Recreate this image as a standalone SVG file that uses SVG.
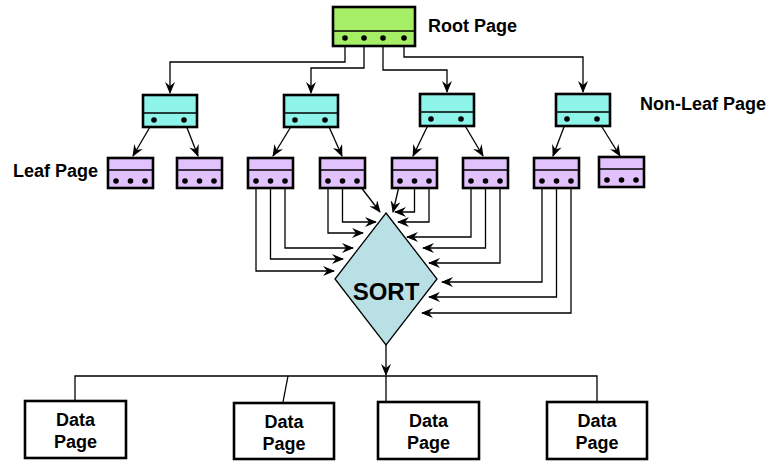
<svg xmlns="http://www.w3.org/2000/svg" width="773" height="461" viewBox="0 0 773 461">
<style>
.box{stroke:#000;stroke-width:2.6}
.root{fill:#a6ee66}
.nl{fill:#8ef4ea}
.leaf{fill:#e2c2fc}
.data{fill:#fff}
.div{stroke:#000;stroke-width:1.5;fill:none}
.dot{fill:#000}
.c{fill:none;stroke:#000;stroke-width:1.3}
.lbl{font-family:"Liberation Sans",Arial,sans-serif;font-weight:bold;font-size:18px;fill:#000}
.dt{font-family:"Liberation Sans",Arial,sans-serif;font-weight:bold;font-size:18px;fill:#000;text-anchor:middle}
</style>
<defs>
<marker id="ah" viewBox="0 0 12 10" refX="11" refY="5" markerWidth="12" markerHeight="10" markerUnits="userSpaceOnUse" orient="auto">
<path d="M0,0 L12,5 L0,10 L4,5 z" fill="#000"/>
</marker>
<g id="leafshape">
<rect class="box leaf" x="0" y="0" width="45" height="30"/>
<line class="div" x1="0" y1="12" x2="45" y2="12"/>
<circle class="dot" cx="8" cy="23" r="2.8"/>
<circle class="dot" cx="22.5" cy="23" r="2.8"/>
<circle class="dot" cx="37" cy="23" r="2.8"/>
</g>
<g id="nlshape">
<rect class="box nl" x="0" y="0" width="54" height="32"/>
<line class="div" x1="0" y1="18" x2="54" y2="18"/>
<circle class="dot" cx="11" cy="25" r="2.8"/>
<circle class="dot" cx="41" cy="25" r="2.8"/>
</g>
</defs>
<rect width="773" height="461" fill="#fff"/>

<g id="connectors">
<!-- root to non-leaf -->
<polyline class="c" points="345,38 345,62 170,62 170,93" marker-end="url(#ah)"/>
<polyline class="c" points="364,38 364,68 311,68 311,93" marker-end="url(#ah)"/>
<polyline class="c" points="383,38 383,70 447,70 447,92" marker-end="url(#ah)"/>
<polyline class="c" points="404,38 404,57 583,57 583,92" marker-end="url(#ah)"/>
<!-- non-leaf to leaf -->
<line class="c" x1="154" y1="120" x2="133" y2="156" marker-end="url(#ah)"/>
<line class="c" x1="184" y1="120" x2="198" y2="156" marker-end="url(#ah)"/>
<line class="c" x1="295" y1="120" x2="273" y2="156" marker-end="url(#ah)"/>
<line class="c" x1="326" y1="120" x2="342" y2="156" marker-end="url(#ah)"/>
<line class="c" x1="431" y1="119" x2="413" y2="156" marker-end="url(#ah)"/>
<line class="c" x1="461" y1="119" x2="483" y2="156" marker-end="url(#ah)"/>
<line class="c" x1="567" y1="119" x2="553" y2="156" marker-end="url(#ah)"/>
<line class="c" x1="597" y1="119" x2="620" y2="156" marker-end="url(#ah)"/>
<!-- leaf to sort, left -->
<polyline class="c" points="256,181 256,271 334,271" marker-end="url(#ah)"/>
<polyline class="c" points="270.5,181 270.5,259 343,259" marker-end="url(#ah)"/>
<polyline class="c" points="285,181 285,248 353,248" marker-end="url(#ah)"/>
<polyline class="c" points="328,181 328,233 363,233" marker-end="url(#ah)"/>
<polyline class="c" points="342.5,181 342.5,222 376,222" marker-end="url(#ah)"/>
<line class="c" x1="357" y1="182" x2="380" y2="212" marker-end="url(#ah)"/>
<line class="c" x1="400" y1="182" x2="393" y2="212" marker-end="url(#ah)"/>
<polyline class="c" points="414.5,181 414.5,212 395,212" marker-end="url(#ah)"/>
<polyline class="c" points="429,181 429,222 398,222" marker-end="url(#ah)"/>
<!-- right -->
<polyline class="c" points="471,181 471,237 407,237" marker-end="url(#ah)"/>
<polyline class="c" points="485.5,181 485.5,248 423,248" marker-end="url(#ah)"/>
<polyline class="c" points="500,181 500,263 429,263" marker-end="url(#ah)"/>
<polyline class="c" points="542,181 542,282 442,282" marker-end="url(#ah)"/>
<polyline class="c" points="556.5,181 556.5,297 429,297" marker-end="url(#ah)"/>
<polyline class="c" points="571,181 571,313 422,313" marker-end="url(#ah)"/>
<!-- sort to data pages -->
<line class="c" x1="386" y1="345" x2="386" y2="375" marker-end="url(#ah)"/>
<polyline class="c" points="75,401 75,376 597,376 597,401"/>
<line class="c" x1="288" y1="376" x2="283" y2="402"/>
<line class="c" x1="386" y1="376" x2="386" y2="402"/>
</g>

<g id="root">
<rect class="box root" x="333" y="7" width="82" height="39"/>
<line class="div" x1="333" y1="31" x2="415" y2="31"/>
<circle class="dot" cx="345" cy="38" r="2.8"/>
<circle class="dot" cx="364" cy="38" r="2.8"/>
<circle class="dot" cx="383" cy="38" r="2.8"/>
<circle class="dot" cx="404" cy="38" r="2.8"/>
</g>
<text class="lbl" x="428" y="32">Root Page</text>

<g id="nl1"><use href="#nlshape" x="143" y="95"/></g>
<g id="nl2"><use href="#nlshape" x="284" y="95"/></g>
<g id="nl3"><use href="#nlshape" x="420" y="94"/></g>
<g id="nl4"><use href="#nlshape" x="556" y="94"/></g>
<text class="lbl" x="640" y="110">Non-Leaf Page</text>

<g id="leaf1"><use href="#leafshape" x="108" y="158"/></g>
<g id="leaf2"><use href="#leafshape" x="177" y="158"/></g>
<g id="leaf3"><use href="#leafshape" x="248" y="158"/></g>
<g id="leaf4"><use href="#leafshape" x="320" y="158"/></g>
<g id="leaf5"><use href="#leafshape" x="392" y="158"/></g>
<g id="leaf6"><use href="#leafshape" x="463" y="158"/></g>
<g id="leaf7"><use href="#leafshape" x="534" y="158"/></g>
<g id="leaf8"><use href="#leafshape" x="599" y="157"/></g>
<text class="lbl" x="13" y="177">Leaf Page</text>

<g id="sort">
<polygon points="386,213 437,279 386,345 335,279" fill="#b9e0e4" stroke="#000" stroke-width="1.3"/>
<text x="386" y="300" font-family="'Liberation Sans',Arial,sans-serif" font-weight="bold" font-size="24" text-anchor="middle">SORT</text>
</g>

<g id="data1">
<rect class="box data" x="25" y="401" width="101" height="57"/>
<text class="dt" x="75.5" y="426">Data</text>
<text class="dt" x="75.5" y="448">Page</text>
</g>
<g id="data2">
<rect class="box data" x="234" y="403" width="100" height="56"/>
<text class="dt" x="284" y="428">Data</text>
<text class="dt" x="284" y="450">Page</text>
</g>
<g id="data3">
<rect class="box data" x="378" y="402" width="101" height="57"/>
<text class="dt" x="428.5" y="427">Data</text>
<text class="dt" x="428.5" y="449">Page</text>
</g>
<g id="data4">
<rect class="box data" x="547" y="402" width="100" height="57"/>
<text class="dt" x="597" y="427">Data</text>
<text class="dt" x="597" y="449">Page</text>
</g>
</svg>
